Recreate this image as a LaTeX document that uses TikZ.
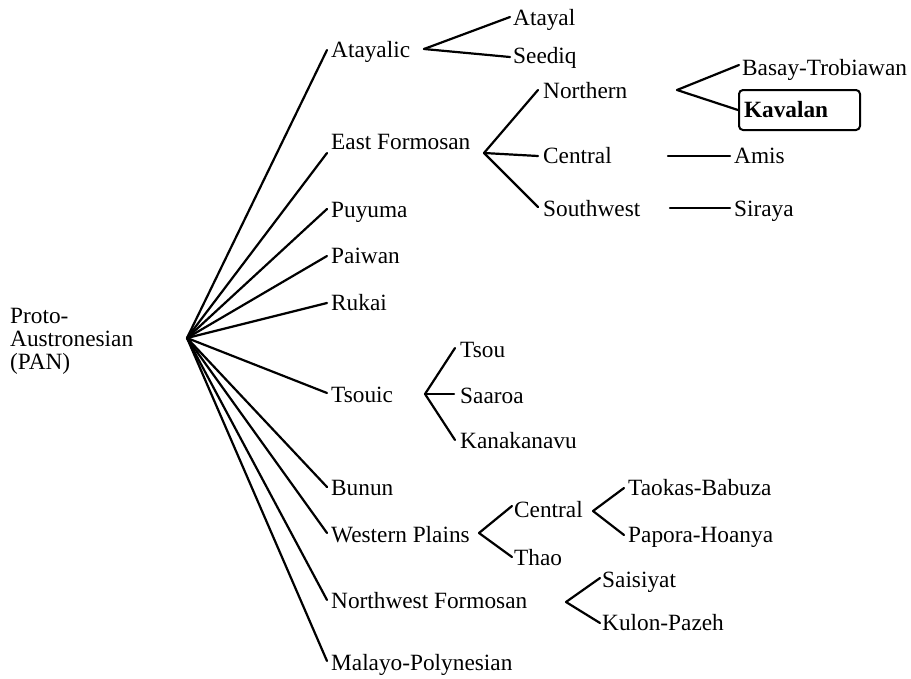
\documentclass[tikz,border=0pt]{standalone}
\usepackage{fontspec}
\setmainfont{Liberation Serif}
\begin{document}
\begin{tikzpicture}[x=1pt,y=-1pt,
  lang/.style={anchor=base west, inner sep=0pt, font=\fontsize{23.3}{23}\selectfont},
  branch/.style={line width=2.2pt, line cap=round},
  chosen/.style={draw, line width=2pt, rounded corners=4pt, anchor=north west,
    inner xsep=5pt, inner ysep=0pt, text width=111pt, minimum height=40pt,
    align=left, font=\fontsize{23.3}{23}\selectfont\bfseries}]
\useasboundingbox (0,0) rectangle (911,678);

% root of the family tree
\node[anchor=west, inner sep=0pt, align=left, font=\fontsize{23.3}{23}\selectfont]
  (pan) at (10,341) {Proto-\\Austronesian\\(PAN)};
\coordinate (pan-fork) at (187,338);

% first-level subgroups
\node[lang] (atayalic) at (331,57)  {Atayalic};
\node[lang] (eastf)    at (331,149) {East Formosan};
\node[lang] (puyuma)   at (331,217) {Puyuma};
\node[lang] (paiwan)   at (331,263) {Paiwan};
\node[lang] (rukai)    at (331,310) {Rukai};
\node[lang] (tsouic)   at (331,402) {Tsouic};
\node[lang] (bunun)    at (331,495) {Bunun};
\node[lang] (wplains)  at (331,542) {Western Plains};
\node[lang] (nwf)      at (331,608) {Northwest Formosan};
\node[lang] (mp)       at (331,670) {Malayo-Polynesian};

\coordinate (atayalic-in) at (327,50);
\coordinate (eastf-in)    at (327,153);
\coordinate (puyuma-in)   at (327,209);
\coordinate (paiwan-in)   at (327,256);
\coordinate (rukai-in)    at (327,303);
\coordinate (tsouic-in)   at (327,393);
\coordinate (bunun-in)    at (327,487);
\coordinate (wplains-in)  at (327,533);
\coordinate (nwf-in)      at (327,600);
\coordinate (mp-in)       at (327,661);

\foreach \g in {atayalic,eastf,puyuma,paiwan,rukai,tsouic,bunun,wplains,nwf,mp}
  \draw[branch] (pan-fork) -- (\g-in);

% Atayalic
\node[lang] (atayal) at (513,25) {Atayal};
\node[lang] (seediq) at (513,63) {Seediq};
\coordinate (atayalic-fork) at (424,49);
\coordinate (atayal-in) at (510,17);
\coordinate (seediq-in) at (510,57);
\draw[branch] (atayalic-fork) -- (atayal-in);
\draw[branch] (atayalic-fork) -- (seediq-in);

% East Formosan
\node[lang] (northern)  at (543,98)  {Northern};
\node[lang] (ecentral)  at (543,163) {Central};
\node[lang] (southwest) at (543,216) {Southwest};
\coordinate (eastf-fork) at (484,153);
\coordinate (northern-in)  at (538,90);
\coordinate (ecentral-in)  at (538,156);
\coordinate (southwest-in) at (538,207);
\draw[branch] (eastf-fork) -- (northern-in);
\draw[branch] (eastf-fork) -- (ecentral-in);
\draw[branch] (eastf-fork) -- (southwest-in);

\node[lang] (basay) at (742,75) {Basay-Trobiawan};
\node[chosen] (kavalan) at (738,89) {Kavalan};
\coordinate (northern-fork) at (677,90);
\coordinate (basay-in) at (739,65);
\draw[branch] (northern-fork) -- (basay-in);
\draw[branch] (northern-fork) -- (kavalan.west);

\node[lang] (amis)   at (734,163) {Amis};
\node[lang] (siraya) at (734,216) {Siraya};
\coordinate (ecentral-out)  at (668,156);
\coordinate (amis-in)       at (730,156);
\coordinate (southwest-out) at (670,208);
\coordinate (siraya-in)     at (730,208);
\draw[branch] (ecentral-out) -- (amis-in);
\draw[branch] (southwest-out) -- (siraya-in);

% Tsouic
\node[lang] (tsou)   at (460,357) {Tsou};
\node[lang] (saaroa) at (460,403) {Saaroa};
\node[lang] (kanak)  at (460,448) {Kanakanavu};
\coordinate (tsouic-fork) at (425,394);
\coordinate (tsou-in)   at (455,348);
\coordinate (saaroa-in) at (454,394);
\coordinate (kanak-in)  at (455,440);
\draw[branch] (tsouic-fork) -- (tsou-in);
\draw[branch] (tsouic-fork) -- (saaroa-in);
\draw[branch] (tsouic-fork) -- (kanak-in);

% Western Plains
\node[lang] (wcentral) at (514,517) {Central};
\node[lang] (thao)     at (514,565) {Thao};
\coordinate (wplains-fork) at (479,533);
\coordinate (wcentral-in) at (512,506);
\coordinate (thao-in)     at (512,557);
\draw[branch] (wplains-fork) -- (wcentral-in);
\draw[branch] (wplains-fork) -- (thao-in);

\node[lang] (taokas) at (628,495) {Taokas-Babuza};
\node[lang] (papora) at (628,542) {Papora-Hoanya};
\coordinate (wcentral-fork) at (593,511);
\coordinate (taokas-in) at (624,488);
\coordinate (papora-in) at (624,535);
\draw[branch] (wcentral-fork) -- (taokas-in);
\draw[branch] (wcentral-fork) -- (papora-in);

% Northwest Formosan
\node[lang] (saisiyat) at (602,587) {Saisiyat};
\node[lang] (kulon)    at (602,630) {Kulon-Pazeh};
\coordinate (nwf-fork) at (566,602);
\coordinate (saisiyat-in) at (600,578);
\coordinate (kulon-in)    at (600,623);
\draw[branch] (nwf-fork) -- (saisiyat-in);
\draw[branch] (nwf-fork) -- (kulon-in);
\end{tikzpicture}
\end{document}
